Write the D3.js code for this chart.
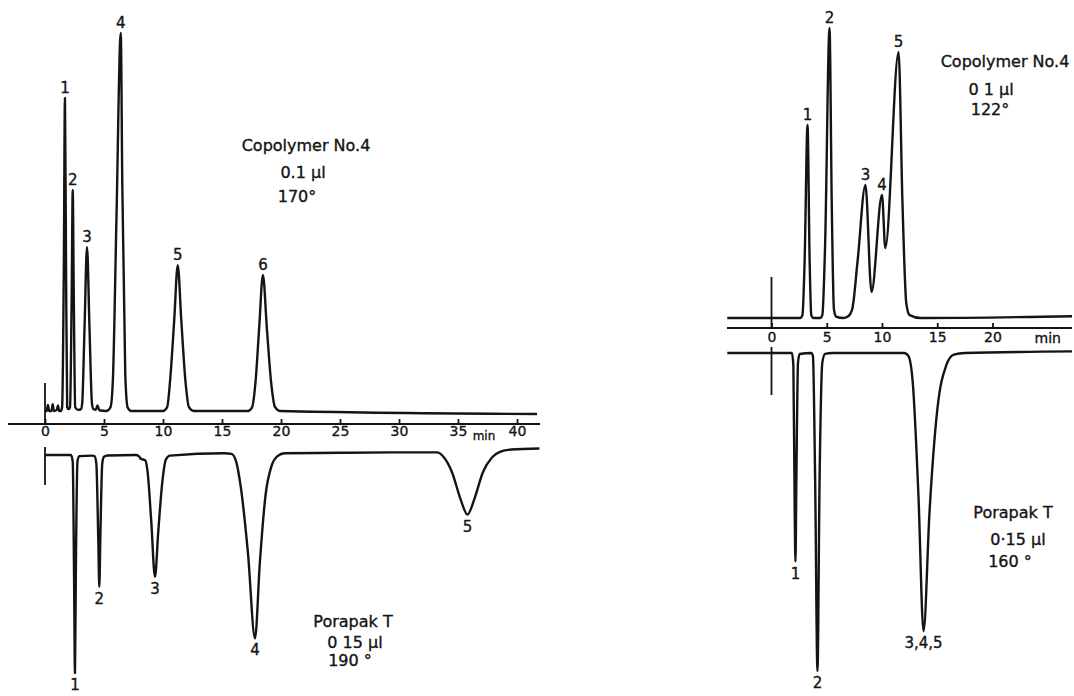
<!DOCTYPE html>
<html>
<head>
<meta charset="utf-8">
<script src="https://cdn.jsdelivr.net/npm/d3@7"></script>
<style>
  html, body { margin: 0; padding: 0; background: #fff; }
  svg { display: block; }
  text { stroke: #141414; stroke-width: 0.35px; }
</style>
</head>
<body>
<svg id="chart" width="1074" height="696"></svg>
<script>
// Recorder traces: [retention time (min), detector response (relative units)]
// Copolymer No.4 column, 170 °C
const leftUpperTrace = [
  [0, 0], [0.15, 0], [0.25, 1.6], [0.35, 0], [0.55, 0], [0.65, 1.8], [0.75, 0],
  [1.0, 0.3], [1.1, 1.5], [1.2, 0], [1.35, 0],
  [1.45, 1], [1.6, 40], [1.69, 82.8], [1.78, 40], [1.88, 1], [2.0, 0.5],
  [2.12, 1], [2.26, 30], [2.35, 58.5], [2.44, 30], [2.56, 1], [2.8, 0.3], [3.05, 0.5],
  [3.15, 2], [3.35, 22], [3.56, 43.4], [3.77, 22], [3.98, 2], [4.1, 0.5],
  [4.3, 0.3], [4.45, 1.5], [4.6, 0.2], [5.2, 0],
  [5.55, 1], [5.75, 8], [6.05, 50], [6.42, 100], [6.55, 60], [6.8, 10], [7.0, 1], [7.3, 0],
  [10.0, 0], [10.35, 1], [10.6, 8], [10.95, 24], [11.25, 38.6], [11.55, 24], [11.9, 8], [12.2, 1], [12.6, 0],
  [17.2, 0], [17.55, 1], [17.85, 8], [18.15, 22], [18.47, 36], [18.8, 22], [19.15, 8], [19.5, 1], [19.9, 0],
  [41.7, -0.8]
];
// Porapak T column, 190 °C (response plotted downwards)
const leftLowerTrace = [
  [0, 0], [2.2, 0], [2.35, 3], [2.47, 60], [2.54, 100], [2.62, 50], [2.75, 3], [2.9, 0.5], [4.0, 0.3],
  [4.2, 0.5], [4.35, 4], [4.52, 40], [4.6, 60.5], [4.7, 35], [4.85, 4], [5.0, 0.8], [5.3, 0.2],
  [7.7, 0], [7.95, 0.5], [8.1, 1.6], [8.5, 2.5], [8.7, 8], [9.0, 30], [9.32, 55.9], [9.6, 35], [9.95, 12], [10.25, 2], [10.6, 0.3],
  [15.2, -0.8], [15.8, -0.5], [16.2, 3], [16.6, 15], [17.2, 45], [17.8, 84.1], [18.2, 50], [18.7, 18], [19.2, 5], [19.7, 0.5], [20.3, -0.8],
  [25, -1], [30, -1.2], [33.2, -1.2], [33.8, 1], [34.5, 8], [35.2, 20], [35.8, 27.3], [36.4, 20], [37.1, 8], [37.9, 1], [38.6, -1.5],
  [39.5, -2.5], [41.9, -3]
];
// Copolymer No.4 column, 122 °C
const rightUpperTrace = [
  [-4, 0], [2.6, 0], [2.8, 1], [3.0, 20], [3.26, 66.6], [3.45, 20], [3.6, 1], [3.8, 0],
  [4.4, 0], [4.6, 1], [4.85, 25], [5.25, 100], [5.45, 40], [5.65, 3], [5.85, 0.5], [6.5, 0],
  [6.9, 0.5], [7.3, 3], [7.8, 20], [8.5, 45.9], [9.05, 9], [10.0, 42.4], [10.3, 24.1], [11.5, 91.7],
  [11.85, 40], [12.2, 5], [12.5, 1], [13.5, 0], [27.2, 0.6]
];
// Porapak T column, 160 °C (response plotted downwards)
const rightLowerTrace = [
  [-4, 0], [1.85, 0], [1.98, 4], [2.1, 50], [2.17, 65.6], [2.25, 40], [2.4, 3], [2.55, 0.3],
  [3.6, 0], [3.75, 1], [3.95, 40], [4.16, 100], [4.35, 40], [4.6, 3], [4.85, 0.3], [5.5, 0],
  [12.0, 0], [12.4, 1], [12.8, 10], [13.3, 45], [13.76, 87.5], [14.3, 50], [15.0, 18], [15.8, 4], [16.5, 0.5], [17.5, 0],
  [27.2, -0.5]
];

// Peak numbers and their retention times
const leftUpperPeaks  = [["1", 1.69], ["2", 2.35], ["3", 3.56], ["4", 6.42], ["5", 11.25], ["6", 18.47]];
const leftLowerPeaks  = [["1", 2.54], ["2", 4.6], ["3", 9.32], ["4", 17.8], ["5", 35.8]];
const rightUpperPeaks = [["1", 3.26], ["2", 5.25], ["3", 8.5], ["4", 10.0], ["5", 11.5]];
const rightLowerPeaks = [["1", 2.17], ["2", 4.16], ["3,4,5", 13.76]];

// Time axes
const leftTicks  = [0, 5, 10, 15, 20, 25, 30, 35, 40];
const rightTicks = [0, 5, 10, 15, 20];
const timeUnit = "min";

// Run conditions
const leftUpperNote  = ["Copolymer No.4", "0.1 µl", "170°"];
const leftLowerNote  = ["Porapak  T", "0 15 µl", "190 °"];
const rightUpperNote = ["Copolymer No.4", "0 1 µl", "122°"];
const rightLowerNote = ["Porapak T", "0·15 µl", "160 °"];

const INK = "#141414";
const FONT = "'DejaVu Sans', 'Liberation Sans', sans-serif";
const svg = d3.select("#chart");

const xLeft  = d3.scaleLinear().domain([0, 40]).range([45, 517]);
const xRight = d3.scaleLinear().domain([0, 20]).range([771.5, 992.5]);

const panels = [
  { trace: leftUpperTrace, peaks: leftUpperPeaks, x: xLeft,
    y: d3.scaleLinear().domain([0, 100]).range([411, 33]), up: true, marker: [-28, 12] },
  { trace: leftLowerTrace, peaks: leftLowerPeaks, x: xLeft,
    y: d3.scaleLinear().domain([0, 100]).range([455, 673]), up: false, marker: [-8, 30] },
  { trace: rightUpperTrace, peaks: rightUpperPeaks, x: xRight,
    y: d3.scaleLinear().domain([0, 100]).range([318, 28]), up: true, marker: [-41, 10] },
  { trace: rightLowerTrace, peaks: rightLowerPeaks, x: xRight,
    y: d3.scaleLinear().domain([0, 100]).range([353, 671]), up: false, marker: [-6, 42] }
];

panels.forEach(p => {
  const g = svg.append("g");
  // injection mark at t = 0
  const y0 = p.y(0);
  g.append("line")
    .attr("x1", p.x(0)).attr("x2", p.x(0))
    .attr("y1", y0 + p.marker[0]).attr("y2", y0 + p.marker[1])
    .attr("stroke", INK).attr("stroke-width", 1.8);

  const line = d3.line()
    .x(d => p.x(d[0]))
    .y(d => p.y(d[1]))
    .curve(d3.curveMonotoneX);
  g.append("path")
    .datum(p.trace)
    .attr("d", line)
    .attr("fill", "none")
    .attr("stroke", INK)
    .attr("stroke-width", 2.4)
    .attr("stroke-linejoin", "round");

  // peak numbers at each apex
  const lookup = t => p.trace.reduce((a, b) => Math.abs(b[0] - t) < Math.abs(a[0] - t) ? b : a);
  g.selectAll("text.peak")
    .data(p.peaks)
    .join("text")
    .attr("class", "peak")
    .attr("x", d => p.x(d[1]))
    .attr("y", d => p.y(lookup(d[1])[1]) + (p.up ? -5 : 17))
    .attr("text-anchor", "middle")
    .attr("font-family", FONT)
    .attr("font-size", 15)
    .attr("fill", INK)
    .text(d => d[0]);
});

function drawAxis(x, yPos, ticks, extent, padding, unitAt, unitSize, unitDy) {
  const g = svg.append("g").attr("transform", `translate(0,${yPos})`)
    .call(d3.axisBottom(x).tickValues(ticks).tickSizeInner(-5).tickSizeOuter(0).tickPadding(padding));
  g.select(".domain").remove();
  g.selectAll(".tick line").attr("stroke", INK).attr("stroke-width", 1.8);
  g.selectAll(".tick text")
    .attr("font-family", FONT).attr("font-size", 14).attr("fill", INK);
  g.append("line")
    .attr("x1", extent[0]).attr("x2", extent[1])
    .attr("stroke", INK).attr("stroke-width", 1.8);
  g.append("text")
    .attr("x", x(unitAt)).attr("y", unitDy)
    .attr("text-anchor", "middle")
    .attr("font-family", FONT).attr("font-size", unitSize).attr("fill", INK)
    .text(timeUnit);
}

drawAxis(xLeft, 424, leftTicks, [8, 540], 2, 37.2, 12, 16);
drawAxis(xRight, 328, rightTicks, [727, 1072], 4, 25.0, 14, 15);

function drawNote(lines, cx, baselines, size) {
  svg.append("g").selectAll("text")
    .data(lines)
    .join("text")
    .attr("x", (d, i) => cx[i])
    .attr("y", (d, i) => baselines[i])
    .attr("text-anchor", "middle")
    .attr("font-family", FONT)
    .attr("font-size", size)
    .attr("fill", INK)
    .text(d => d);
}

drawNote(leftUpperNote, [306, 303, 297], [151, 178, 202], 16);
drawNote(leftLowerNote, [353, 355, 350], [627, 648, 666], 16);
drawNote(rightUpperNote, [1005, 991, 990], [67, 95, 115], 16);
drawNote(rightLowerNote, [1013, 1018, 1010], [518, 545, 567], 16);
</script>
</body>
</html>
